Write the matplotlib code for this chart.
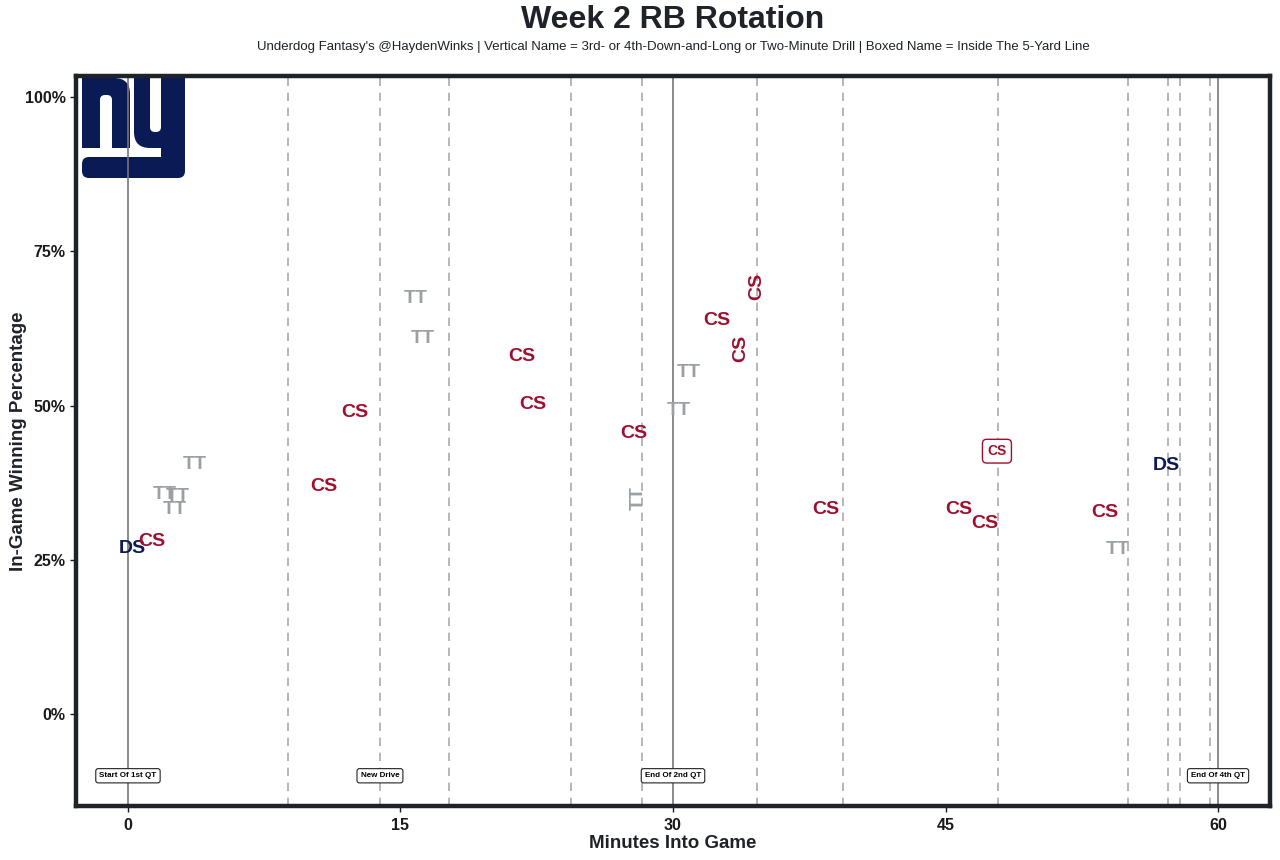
import matplotlib
matplotlib.use("Agg")
import matplotlib.pyplot as plt
from matplotlib.patches import Rectangle, FancyBboxPatch
from matplotlib.transforms import Affine2D
from matplotlib.ticker import FuncFormatter

plt.rcParams['font.family'] = ['Liberation Sans', 'DejaVu Sans']

# play data: minute, win probability, rusher, vertical flag, boxed flag
minutes = [0.22, 1.32, 2.04, 2.75, 2.59, 3.69, 10.79, 12.49, 15.85, 16.24,
           21.68, 22.29, 27.85, 28.07, 30.32, 30.88, 32.42, 33.74, 34.62,
           38.41, 45.73, 47.17, 47.83, 53.77, 54.49, 57.13]
win_prob = [0.269, 0.279, 0.355, 0.352, 0.332, 0.405, 0.368, 0.489, 0.674,
            0.608, 0.580, 0.501, 0.455, 0.350, 0.492, 0.554, 0.638, 0.593,
            0.693, 0.332, 0.332, 0.308, 0.426, 0.326, 0.267, 0.403]
rusher = ["DS", "CS", "TT", "TT", "TT", "TT", "CS", "CS", "TT", "TT",
          "CS", "CS", "CS", "TT", "TT", "TT", "CS", "CS", "CS",
          "CS", "CS", "CS", "CS", "CS", "TT", "DS"]
vertical = [0, 0, 0, 0, 0, 0, 0, 0, 0, 0,
            0, 0, 0, 1, 0, 0, 0, 1, 1,
            0, 0, 0, 0, 0, 0, 0]
boxed = [0, 0, 0, 0, 0, 0, 0, 0, 0, 0,
         0, 0, 0, 0, 0, 0, 0, 0, 0,
         0, 0, 0, 1, 0, 0, 0]

rusher_colors = {"CS": "#A0102E", "DS": "#0E1A52", "TT": "#9AA0A5"}

# drive starts (dashed) and period markers (solid)
drive_minutes = [8.81, 13.87, 17.67, 24.38, 28.29, 34.62, 39.35, 47.88,
                 55.04, 57.24, 57.90, 59.55]
period_minutes = [0, 30, 60]
event_minutes = [0, 13.87, 30, 60]
event_labels = ["Start Of 1st QT", "New Drive", "End Of 2nd QT", "End Of 4th QT"]

fig = plt.figure(figsize=(12.8, 8.6), dpi=100)
ax = fig.add_axes([76 / 1280, 54 / 860, 1194 / 1280, 730 / 860])

for m in drive_minutes:
    ax.axvline(m, color="#AAAAAA", lw=1.2, ls=(0, (5, 4)), zorder=2)
for m in period_minutes:
    ax.axvline(m, color="#777777", lw=1.2, zorder=2)

for m, w, r, v, b in zip(minutes, win_prob, rusher, vertical, boxed):
    c = rusher_colors[r]
    if b:
        ax.text(m, w, r, color=c, fontsize=10, fontweight="bold", ha="center",
                va="center", zorder=4,
                bbox=dict(boxstyle="round,pad=0.35,rounding_size=0.3",
                          fc="white", ec=c, lw=1))
    else:
        ax.text(m, w, r, color=c, fontsize=14, fontweight="bold",
                ha="center", va="center", rotation=90 if v else 0, zorder=4)

for m, lab in zip(event_minutes, event_labels):
    ax.text(m, -0.10, lab, fontsize=5.8, fontweight="bold", ha="center",
            va="center", zorder=4,
            bbox=dict(boxstyle="round,pad=0.45,rounding_size=0.3",
                      fc="white", ec="#222222", lw=0.8))

ax.set_xlim(-2.86, 62.86)
ax.set_ylim(-0.149, 1.034)
ax.set_xticks([0, 15, 30, 45, 60])
ax.set_yticks([0, 0.25, 0.5, 0.75, 1.0])
ax.yaxis.set_major_formatter(FuncFormatter(lambda v, p: f"{v * 100:.0f}%"))
for lab in ax.get_xticklabels() + ax.get_yticklabels():
    lab.set_fontweight("bold")
ax.tick_params(labelsize=11.5, colors="#1A1A1A", length=4, width=1)
ax.tick_params(axis="x", pad=5)
for s in ax.spines.values():
    s.set_linewidth(3.2)
    s.set_color("#1E2229")
ax.set_xlabel("Minutes Into Game", fontsize=13.5, fontweight="bold",
              color="#1E2229", labelpad=1)
ax.set_ylabel("In-Game Winning Percentage", fontsize=13.5, fontweight="bold",
              color="#1E2229", labelpad=-2)

cx = 673 / 1280
fig.text(cx, 0.977, "Week 2 RB Rotation", ha="center", va="center",
         fontsize=23, fontweight="bold", color="#1E2229")
fig.text(cx, 0.945,
         "Underdog Fantasy's @HaydenWinks | Vertical Name = 3rd- or 4th-Down-and-Long"
         " or Two-Minute Drill | Boxed Name = Inside The 5-Yard Line",
         ha="center", va="center", fontsize=9.5, color="#1E2229")

# team logo drawn in figure pixel coords
px = Affine2D().scale(1 / 1280, -1 / 860).translate(0, 1) + fig.transFigure
navy = "#0A1A55"
logo = [
    FancyBboxPatch((82, 78), 48, 70, boxstyle="round,pad=0,rounding_size=16",
                   fc=navy, ec="none"),
    Rectangle((82, 78), 18, 70, fc=navy, ec="none"),
    Rectangle((112, 115), 18, 33, fc=navy, ec="none"),
    FancyBboxPatch((100, 95), 12, 60, boxstyle="round,pad=0,rounding_size=5",
                   fc="white", ec="none"),
    FancyBboxPatch((134, 78), 51, 70, boxstyle="round,pad=0,rounding_size=16",
                   fc=navy, ec="none"),
    Rectangle((134, 78), 51, 20, fc=navy, ec="none"),
    FancyBboxPatch((150, 70), 11, 62, boxstyle="round,pad=0,rounding_size=5",
                   fc="white", ec="none"),
    Rectangle((161, 78), 24, 88, fc=navy, ec="none"),
    FancyBboxPatch((82, 157), 103, 21, boxstyle="round,pad=0,rounding_size=7",
                   fc=navy, ec="none"),
]
for p in logo:
    p.set_transform(px)
    p.set_clip_on(False)
    p.set_zorder(1)
    ax.add_patch(p)

fig.savefig("out.png", dpi=100)
